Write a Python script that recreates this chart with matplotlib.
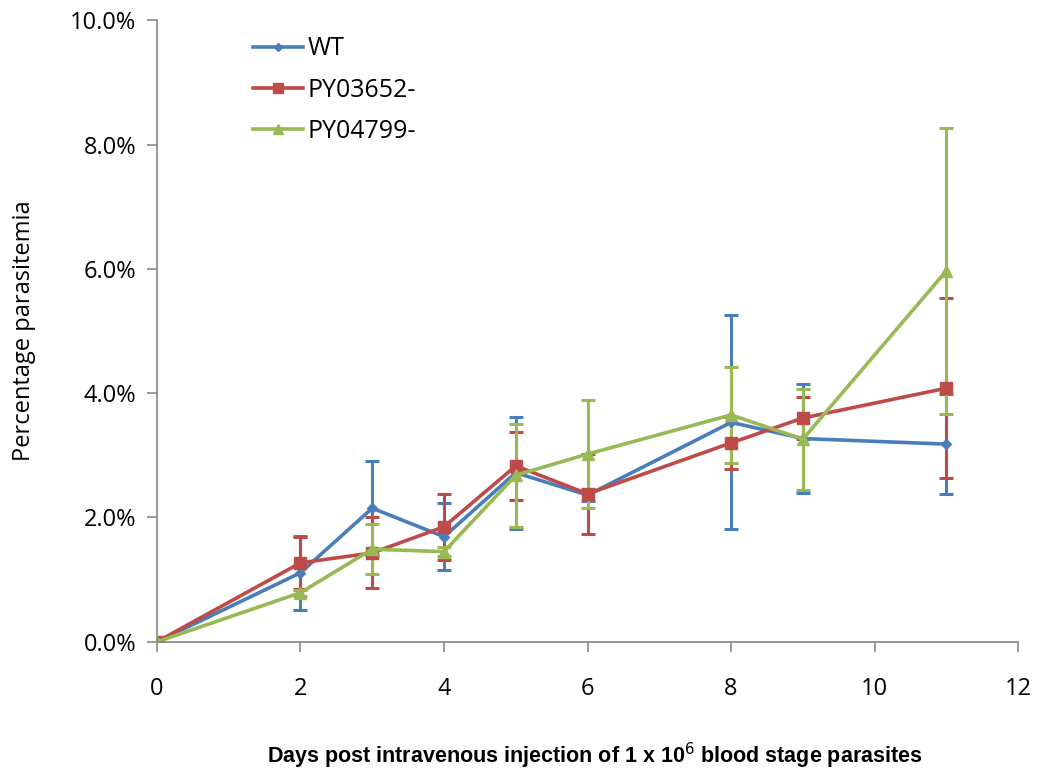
import matplotlib
matplotlib.use("Agg")
import matplotlib.pyplot as plt
from matplotlib.ticker import FuncFormatter
from matplotlib.lines import Line2D

days = [0, 2, 3, 4, 5, 6, 8, 9, 11]
wt = [0.0, 1.11, 2.15, 1.69, 2.72, 2.36, 3.53, 3.27, 3.18]
wt_err = [0.0, 0.60, 0.76, 0.54, 0.90, 0.10, 1.72, 0.88, 0.80]
py03652 = [0.0, 1.27, 1.43, 1.85, 2.83, 2.38, 3.20, 3.60, 4.08]
py03652_err = [0.0, 0.42, 0.57, 0.53, 0.55, 0.64, 0.42, 0.34, 1.45]
py04799 = [0.0, 0.79, 1.49, 1.45, 2.68, 3.02, 3.65, 3.26, 5.97]
py04799_err = [0.0, 0.05, 0.40, 0.07, 0.83, 0.87, 0.77, 0.81, 2.30]
series_names = ["WT", "PY03652-", "PY04799-"]

plt.rcParams['font.family'] = ['Open Sans', 'DejaVu Sans']

fig = plt.figure(figsize=(10.39, 7.77), dpi=100)
ax = fig.add_axes([0.151, 0.174, 0.829, 0.80])

colors = ["#4A7EBB", "#BE4B48", "#98B954"]
markers = ["D", "s", "^"]
msizes = [5, 8, 8]
data = [(wt, wt_err), (py03652, py03652_err), (py04799, py04799_err)]
handles = []
for (vals, errs), name, c, m, ms in zip(data, series_names, colors, markers, msizes):
    ax.errorbar(days, vals, yerr=errs, color=c, marker=m, markersize=ms,
                linewidth=2.6, elinewidth=2.2, capsize=5, capthick=2.2)
    handles.append(Line2D([], [], color=c, marker=m, markersize=ms - 1,
                          linewidth=2.6, label=name))

ax.set_xlim(0, 12)
ax.set_ylim(0, 10)
ax.set_xticks(range(0, 13, 2))
ax.set_yticks([0, 2, 4, 6, 8, 10])
ax.yaxis.set_major_formatter(FuncFormatter(lambda v, p: f"{v:.1f}%"))
for s in ["top", "right"]:
    ax.spines[s].set_visible(False)
for s in ["left", "bottom"]:
    ax.spines[s].set_color("#888888")
    ax.spines[s].set_linewidth(1.2)
ax.tick_params(axis='both', colors="#888888", length=7, width=1.2, labelcolor="black", labelsize=17)
ax.tick_params(axis='y', pad=8)
ax.tick_params(axis='x', pad=18)
ax.set_ylabel("Percentage parasitemia", fontsize=17)
ax.yaxis.set_label_coords(-0.14, 0.5)
ax.set_xlabel("Days post intravenous injection of 1 x 10$^6$ blood stage parasites",
              fontsize=15.5, fontweight='bold',
              family=['Liberation Sans Narrow', 'Liberation Sans', 'DejaVu Sans'])
ax.xaxis.set_label_coords(0.508, -0.16)

leg = ax.legend(handles=handles, loc='upper left', bbox_to_anchor=(0.085, 1.01), frameon=False,
                fontsize=18, handlelength=2.0, handletextpad=0.2, labelspacing=0.65)

fig.savefig("out.png", dpi=100)
